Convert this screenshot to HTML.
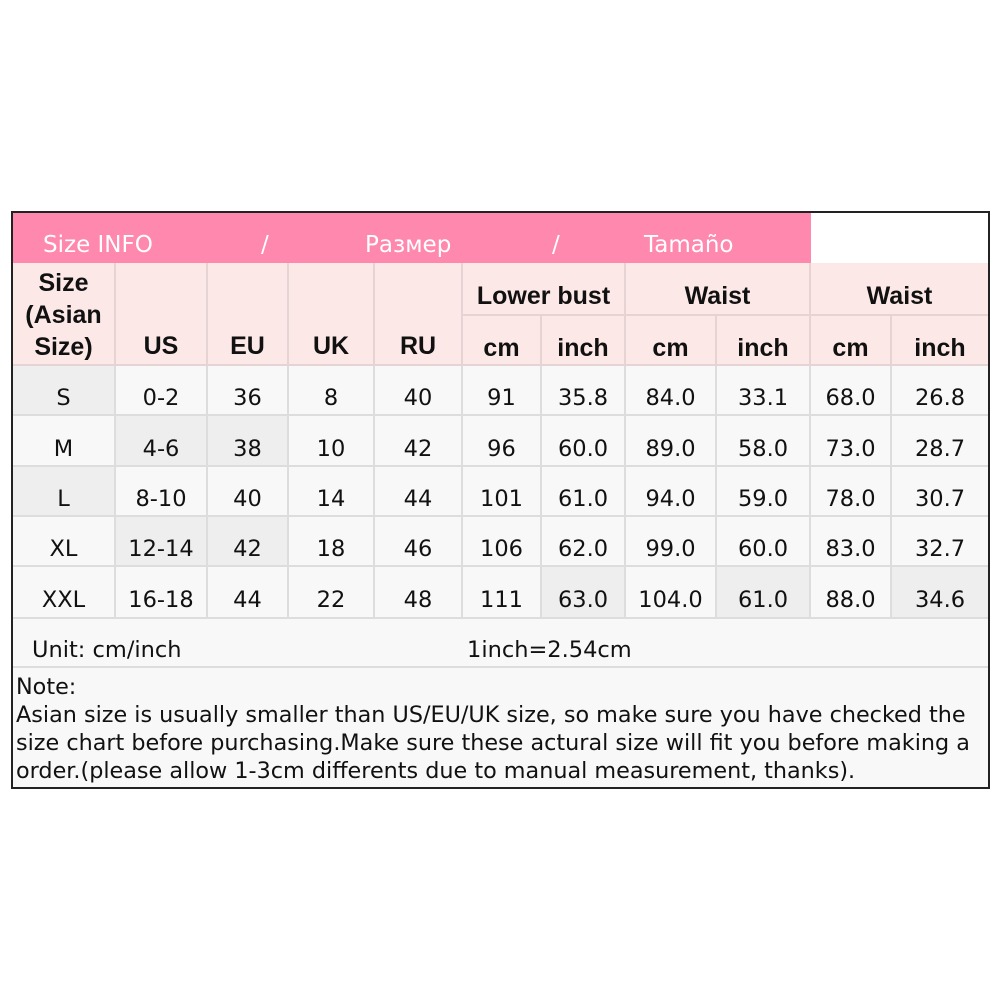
<!DOCTYPE html>
<html><head><meta charset="utf-8"><style>
body{margin:0;width:1002px;height:1002px;background:#fff;position:relative;overflow:hidden;font-family:"DejaVu Sans","Liberation Sans",sans-serif;}
.c{position:absolute;box-sizing:border-box;border-right:2px solid #ddd;border-bottom:2px solid #ddd;display:flex;align-items:center;justify-content:center;color:#111;}
.h{background:#fde8e8;font-family:"Liberation Sans",sans-serif;font-weight:bold;font-size:25px;border-color:#e6d3d3;}
.p{padding-top:16px;}
.d{background:#f8f8f8;font-size:22.5px;padding-top:16px;}
.g{background:#eeeeee;}
.t{position:absolute;color:#fff;font-size:23px;top:232px;}
</style></head><body>
<div style="position:absolute;left:11px;top:211px;width:979px;height:578px;border:2px solid #222;box-sizing:border-box;background:#f8f8f8;"></div>
<div style="position:absolute;left:13px;top:213px;width:798px;height:50px;background:#ff88ae;"></div>
<div style="position:absolute;left:811px;top:213px;width:177px;height:50px;background:#fff;"></div>
<div class="t" style="left:43px">Size INFO</div>
<div class="t" style="left:261px">/</div>
<div class="t" style="left:365px">Размер</div>
<div class="t" style="left:552px">/</div>
<div class="t" style="left:644px">Tamaño</div>

<div class="c h" style="left:13px;top:263px;width:103px;height:103px;line-height:32px;text-align:center;align-items:flex-start;padding-top:4px">Size<br>(Asian<br>Size)</div>
<div class="c h" style="left:116px;top:263px;width:92px;height:103px;align-items:flex-end;padding-bottom:3px">US</div>
<div class="c h" style="left:208px;top:263px;width:81px;height:103px;align-items:flex-end;padding-bottom:3px">EU</div>
<div class="c h" style="left:289px;top:263px;width:86px;height:103px;align-items:flex-end;padding-bottom:3px">UK</div>
<div class="c h" style="left:375px;top:263px;width:88px;height:103px;align-items:flex-end;padding-bottom:3px">RU</div>
<div class="c h p" style="left:463px;top:263px;width:163px;height:53px">Lower bust</div>
<div class="c h p" style="left:626px;top:263px;width:185px;height:53px">Waist</div>
<div class="c h p" style="left:811px;top:263px;width:177px;height:53px;border-right:none">Waist</div>
<div class="c h p" style="left:463px;top:316px;width:79px;height:50px">cm</div>
<div class="c h p" style="left:542px;top:316px;width:84px;height:50px">inch</div>
<div class="c h p" style="left:626px;top:316px;width:91px;height:50px">cm</div>
<div class="c h p" style="left:717px;top:316px;width:94px;height:50px">inch</div>
<div class="c h p" style="left:811px;top:316px;width:81px;height:50px">cm</div>
<div class="c h p" style="left:892px;top:316px;width:96px;height:50px;border-right:none">inch</div>

<div id="rows"></div>
<script>
var xs=[13,116,208,289,375,463,542,626,717,811,892,988];
var ys=[366,416,467,517,567,619];
var data=[["S","0-2","36","8","40","91","35.8","84.0","33.1","68.0","26.8"],
["M","4-6","38","10","42","96","60.0","89.0","58.0","73.0","28.7"],
["L","8-10","40","14","44","101","61.0","94.0","59.0","78.0","30.7"],
["XL","12-14","42","18","46","106","62.0","99.0","60.0","83.0","32.7"],
["XXL","16-18","44","22","48","111","63.0","104.0","61.0","88.0","34.6"]];
var grey={"0,0":1,"1,1":1,"1,2":1,"2,0":1,"3,1":1,"3,2":1,"4,6":1,"4,8":1,"4,10":1};
var h="";
for(var r=0;r<5;r++)for(var c=0;c<11;c++){
h+='<div class="c d'+(grey[r+","+c]?' g':'')+'" style="left:'+xs[c]+'px;top:'+ys[r]+'px;width:'+(xs[c+1]-xs[c])+'px;height:'+(ys[r+1]-ys[r])+'px;'+(c==10?'border-right:none':'')+'">'+data[r][c]+'</div>';}
document.getElementById("rows").innerHTML=h;
</script>
<div class="c" style="left:13px;top:619px;width:975px;height:49px;border-right:none;background:#f8f8f8"></div>
<div style="position:absolute;left:32px;top:637px;font-size:22.5px;color:#111">Unit: cm/inch</div>
<div style="position:absolute;left:467px;top:637px;font-size:22.5px;color:#111">1inch=2.54cm</div>
<div style="position:absolute;left:16px;top:673px;width:970px;font-size:22.3px;line-height:28px;color:#111;white-space:nowrap">Note:<br>Asian size is usually smaller than US/EU/UK size, so make sure you have checked the<br>size chart before purchasing.Make sure these actural size will fit you before making a<br>order.(please allow 1-3cm differents due to manual measurement, thanks).</div>
</body></html>
